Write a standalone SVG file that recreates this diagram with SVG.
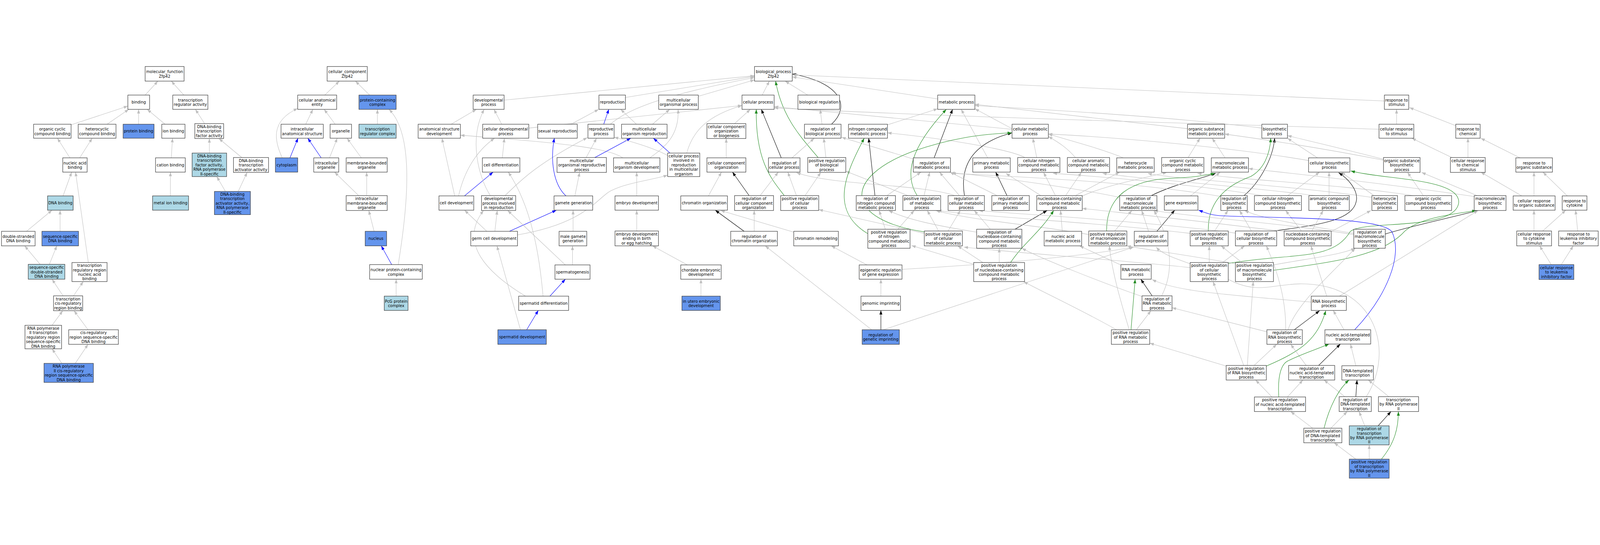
<svg xmlns="http://www.w3.org/2000/svg" width="5380" height="1395" viewBox="0 0 5380 1395" style="width:100vw;height:100vh;display:block">
<style>
.node rect{fill:#fff;stroke:#3c3c3c;stroke-width:1.6}
.node.lb rect{fill:#add8e6}
.node.db rect{fill:#6495ed}
text{font-family:"DejaVu Sans","Liberation Sans",sans-serif;font-size:13px;text-anchor:middle;dominant-baseline:central;fill:#000}
#edges path{fill:none;stroke:#c0c0c0;stroke-width:1.4;marker-end:url(#ag)}
#edges path.b{stroke:#0000ff;marker-end:url(#ab)}
#edges path.k{stroke:#000;marker-end:url(#ak)}
#edges path.g{stroke:#228b22;marker-end:url(#agr)}
</style>
<defs>
<marker id="ag" markerUnits="userSpaceOnUse" markerWidth="14" markerHeight="10" refX="14" refY="5" orient="auto"><path d="M0,0L14,5L0,10z" fill="#c0c0c0"/></marker>
<marker id="ab" markerUnits="userSpaceOnUse" markerWidth="14" markerHeight="10" refX="14" refY="5" orient="auto"><path d="M0,0L14,5L0,10z" fill="#0000ff"/></marker>
<marker id="ak" markerUnits="userSpaceOnUse" markerWidth="14" markerHeight="10" refX="14" refY="5" orient="auto"><path d="M0,0L14,5L0,10z" fill="#000"/></marker>
<marker id="agr" markerUnits="userSpaceOnUse" markerWidth="14" markerHeight="10" refX="14" refY="5" orient="auto"><path d="M0,0L14,5L0,10z" fill="#228b22"/></marker>
</defs>
<rect width="5380" height="1395" fill="#fff"/>
<g id="edges">
<path d="M488,101L531,54"/>
<path d="M618,101L576,54"/>
<path d="M239,201L430,138"/>
<path d="M360,199L433,149"/>
<path d="M466,199L466,149"/>
<path d="M555,199L495,149"/>
<path d="M688,197L657,149"/>
<path d="M235,312L193,246"/>
<path d="M268,312L310,246"/>
<path d="M576,312L580,246"/>
<path d="M704,296L704,247"/>
<path d="M813,311L736,247"/>
<path d="M212,440L241,360"/>
<path d="M573,440L573,360"/>
<path d="M758,425L729,375"/>
<path d="M801,425L831,361"/>
<path d="M89,559L175,488"/>
<path d="M202,559L202,488"/>
<path d="M297,664L254,360"/>
<path d="M135,670L83,608"/>
<path d="M166,670L191,608"/>
<path d="M212,776L175,720"/>
<path d="M247,776L280,728"/>
<path d="M175,875L211,826"/>
<path d="M296,890L249,826"/>
<path d="M208,1003L175,954"/>
<path d="M253,1003L296,939"/>
<path d="M1092,101L1141,54"/>
<path d="M1243,101L1195,54"/>
<path d="M1028,199L1052,149"/>
<path d="M1127,199L1090,149"/>
<path d="M1269,199L1269,149"/>
<path d="M949,312C925,260 905,190 1001,146"/>
<path class="b" d="M975,312L1002,246"/>
<path class="b" d="M1080,312L1035,246"/>
<path d="M1108,312L1134,246"/>
<path d="M1215,312L1167,246"/>
<path d="M1206,439L1125,360"/>
<path d="M1233,439L1233,360"/>
<path d="M1258,559L1240,489"/>
<path class="b" d="M1317,671L1282,608"/>
<path d="M1339,671C1375,450 1390,230 1308,149"/>
<path d="M1332,777L1332,720"/>
<path d="M1695,118L2537,36"/>
<path d="M1517,199L1602,149"/>
<path d="M1687,199L1661,149"/>
<path d="M1778,212L2495,136"/>
<path d="M2094,312C2050,280 1900,262 1548,236"/>
<path d="M1689,312L1696,246"/>
<path d="M1529,440L1486,246"/>
<path d="M1542,440C1560,360 1600,290 1663,246"/>
<path class="b" d="M1562,440L1658,360"/>
<path d="M1649,439C1610,380 1575,250 1628,149"/>
<path d="M1698,439C1740,400 1790,340 1975,244"/>
<path d="M1637,559L1562,488"/>
<path d="M1664,559L1672,489"/>
<path class="b" d="M1713,559L1871,488"/>
<path d="M1740,571C1980,530 2010,440 2060,420C2110,395 2200,385 2245,370"/>
<path d="M1901,672L1707,489"/>
<path d="M1767,777C1640,700 1540,600 1626,489"/>
<path d="M1750,890L1671,608"/>
<path class="b" d="M1771,890L1810,825"/>
<path class="b" d="M1849,777L1901,720"/>
<path d="M1826,777C1815,650 1790,480 1709,360"/>
<path d="M2103,109L2537,38"/>
<path d="M2348,105L2537,50"/>
<path d="M2563,101L2587,54"/>
<path d="M2052,199C2100,160 2180,110 2537,42"/>
<path d="M1920,199L2013,149"/>
<path class="b" d="M2030,199L2047,149"/>
<path d="M2140,199L2087,149"/>
<path d="M2194,199L2252,149"/>
<path d="M2185,312C2230,280 2285,240 2280,149"/>
<path d="M2309,296C2330,220 2380,170 2495,136"/>
<path d="M2470,197L2523,149"/>
<path class="k" d="M2627,312L2560,149"/>
<path class="g" d="M2638,440C2600,390 2540,330 2543,149"/>
<path class="g" d="M2751,311C2700,250 2630,180 2608,54"/>
<path d="M1971,311L2006,246"/>
<path class="b" d="M2000,311L2121,246"/>
<path class="b" d="M2253,296L2197,246"/>
<path d="M2245,304C2200,280 2120,255 2065,243"/>
<path class="b" d="M1903,440C1860,400 1850,320 1864,246"/>
<path d="M1933,440L1949,361"/>
<path d="M2141,440L2141,360"/>
<path d="M2141,558L2141,488"/>
<path d="M1927,559L1927,488"/>
<path d="M1925,672L1925,608"/>
<path d="M2311,672L2194,608"/>
<path d="M2357,777L2357,720"/>
<path d="M2442,312L2442,247"/>
<path d="M2382,440L2426,360"/>
<path class="k" d="M2519,439L2463,360"/>
<path d="M2556,439L2617,360"/>
<path d="M2678,439L2649,360"/>
<path class="k" d="M2502,559L2405,488"/>
<path d="M2536,559L2536,489"/>
<path d="M2669,562L2423,489"/>
<path d="M2931,890L2573,608"/>
<path class="k" d="M2962,890L2962,825"/>
<path d="M2964,892L3812,612"/>
<path d="M2962,777L2962,720"/>
<path d="M3033,687Q3580,655 3810,612"/>
<path d="M2915,672L2795,608"/>
<path d="M2716,101L2640,54"/>
<path class="k" d="M2796,199C2860,140 2830,60 2664,30"/>
<path d="M4655,121L2664,33"/>
<path d="M3153,114L2664,40"/>
<path d="M2764,199L2758,149"/>
<path d="M2663,312L2738,246"/>
<path d="M2777,311L2770,246"/>
<path d="M2707,439L2760,361"/>
<path d="M2984,201L3153,147"/>
<path d="M3403,214L3278,147"/>
<path d="M3403,216L2603,140"/>
<path d="M4637,216C4200,200 3300,180 2603,144"/>
<path d="M3993,214L3278,132"/>
<path d="M4243,212C3900,170 3500,150 3278,136"/>
<path class="k" d="M3141,312L3203,149"/>
<path d="M3071,316L2830,243"/>
<path d="M3321,312L3232,149"/>
<path d="M3486,311L3473,246"/>
<path d="M3446,311C3400,285 3200,250 2984,228"/>
<path d="M3616,311C3590,280 3560,260 3525,240"/>
<path d="M3777,312C3700,280 3600,255 3525,232"/>
<path d="M3995,311L4035,246"/>
<path d="M4119,312L4076,246"/>
<path class="k" d="M2942,439L2921,246"/>
<path d="M2982,439L3097,360"/>
<path class="g" d="M3084,439C3040,370 3060,280 3182,149"/>
<path d="M3107,439L3126,360"/>
<path d="M3053,439L2844,357"/>
<path class="k" d="M3243,439C3225,330 3280,260 3403,228"/>
<path d="M3226,439L3159,360"/>
<path d="M3211,439C3100,400 2800,405 2678,362"/>
<path class="k" d="M3386,439L3348,360"/>
<path d="M3353,439L3194,360"/>
<path d="M3549,439L3509,361"/>
<path d="M3583,439L3636,361"/>
<path d="M3616,439L3765,360"/>
<path d="M3630,445C3700,410 3800,390 3924,361"/>
<path d="M3500,439L3382,364"/>
<path class="k" d="M3871,439C3950,400 4030,385 4088,364"/>
<path d="M3765,445C3600,410 3300,370 3196,362"/>
<path d="M4003,440L4103,360"/>
<path class="k" d="M4183,439C4230,400 4280,320 4286,246"/>
<path d="M4106,442C3800,390 3400,375 3200,364"/>
<path d="M4246,439C4000,400 3700,375 3540,364"/>
<path d="M4330,439L4437,360"/>
<path d="M4469,439L4469,360"/>
<path d="M4426,439C4100,400 3800,380 3707,364"/>
<path d="M4620,439L4510,360"/>
<path d="M4613,445C4300,400 3950,385 3859,364"/>
<path d="M4786,439L4733,361"/>
<path d="M4753,439C4500,400 4150,385 4026,364"/>
<path d="M4967,439L4780,361"/>
<path d="M4957,442C4600,390 4300,360 4198,348"/>
<path d="M4430,312L4329,246"/>
<path d="M4400,321C4100,270 3700,240 3525,232"/>
<path d="M4652,317C4550,290 4400,255 4329,237"/>
<path d="M4652,320C4450,280 4250,250 4118,232"/>
<path d="M4696,199L4696,149"/>
<path d="M4895,204L4739,143"/>
<path d="M4882,311L4747,246"/>
<path d="M4936,311L4936,246"/>
<path d="M5111,312L4979,246"/>
<path d="M5117,440L4979,360"/>
<path d="M5158,440L5158,360"/>
<path d="M5270,440L5188,360"/>
<path d="M5158,558L5158,488"/>
<path d="M5187,558L5265,488"/>
<path d="M5305,558L5298,488"/>
<path d="M5216,671L5177,608"/>
<path d="M5250,671L5290,608"/>
<path class="g" d="M2918,567C2790,490 2840,370 2906,246"/>
<path d="M2977,552L2956,489"/>
<path d="M3019,552L3074,489"/>
<path class="g" d="M3108,561C2840,520 2830,380 3070,290C3200,245 3300,232 3402,228"/>
<path d="M3188,558L3229,489"/>
<path d="M3156,558L3118,489"/>
<path d="M3108,566L2753,486"/>
<path class="k" d="M3413,552L3521,489"/>
<path d="M3330,552L3276,489"/>
<path d="M3284,562C3150,540 3050,520 2988,489"/>
<path d="M3572,559L3566,489"/>
<path class="g" d="M3721,558C3720,440 3800,385 3950,380C4010,378 4050,372 4085,364"/>
<path d="M3748,558L3806,489"/>
<path d="M3661,570C3500,540 3250,520 3147,489"/>
<path class="k" d="M3890,559L3950,488"/>
<path d="M3862,559L3839,489"/>
<path class="g" d="M4063,558C4060,440 4150,395 4205,375C4250,350 4270,300 4273,246"/>
<path d="M4084,558L4129,489"/>
<path d="M4002,566C3700,530 3300,510 3152,489"/>
<path class="k" d="M4286,558C4400,540 4545,530 4560,460C4570,420 4530,380 4501,362"/>
<path d="M4208,558L4168,489"/>
<path d="M4154,565C3800,520 3400,500 3291,489"/>
<path d="M4376,558L4323,489"/>
<path d="M4411,558L4449,489"/>
<path d="M4476,560L4610,489"/>
<path d="M4318,560C4000,520 3800,500 3639,482"/>
<path class="k" d="M4658,568C4750,540 4850,520 4970,489"/>
<path d="M4552,566C4400,540 4250,520 4185,489"/>
<path d="M4552,570C4300,530 4000,510 3880,489"/>
<path class="g" d="M3398,664C3440,600 3500,560 3543,489"/>
<path d="M3360,664L3360,616"/>
<path d="M3274,670L3065,607"/>
<path d="M3305,664L3220,608"/>
<path d="M3768,672L3630,608"/>
<path d="M4066,664L4066,608"/>
<path d="M4111,664L4185,608"/>
<path d="M4002,681C3700,650 3400,630 3241,612"/>
<path class="g" d="M4130,667C4350,630 4480,660 4540,560C4580,520 4900,560 4905,460C4905,380 4650,385 4542,356"/>
<path d="M4282,672C4400,650 4500,640 4557,616"/>
<path class="g" d="M4282,690C4500,660 4650,640 4724,558C4780,510 4900,500 4964,489"/>
<path d="M4176,664L4106,608"/>
<path d="M4154,668C4000,640 3850,620 3789,608"/>
<path class="k" d="M3874,776L3836,720"/>
<path d="M3840,778C3700,730 3500,650 3436,616"/>
<path d="M3906,776C3945,700 3945,600 3880,489"/>
<path d="M4409,797C4100,770 3950,760 3874,721"/>
<path d="M4461,777L4408,608"/>
<path d="M4504,777L4970,489"/>
<path class="g" d="M3803,890L3817,720"/>
<path d="M3821,890L3870,826"/>
<path d="M3754,890C3650,830 3500,760 3442,728"/>
<path d="M3797,890C3770,800 3740,700 3730,608"/>
<path class="k" d="M4352,890L4437,826"/>
<path d="M4260,897L3941,816"/>
<path d="M4323,890C4325,800 4300,700 4258,608"/>
<path d="M4331,890C4360,800 4480,700 4557,616"/>
<path d="M4519,890L4483,825"/>
<path class="b" d="M4555,890C4660,780 4720,640 4680,560C4640,510 4300,515 4112,507C4070,505 4050,495 4030,488"/>
<path d="M4594,1115C4680,980 4640,790 4460,745C4300,710 4250,790 4120,715C4000,660 3920,650 3888,612"/>
<path class="g" d="M4258,1012C4380,960 4430,920 4458,826"/>
<path d="M4217,1010L4293,939"/>
<path d="M4123,1012L3866,935"/>
<path d="M4182,1010L4079,728"/>
<path d="M4194,1010L4214,728"/>
<path class="k" d="M4434,1010L4507,938"/>
<path d="M4392,1010L4340,939"/>
<path d="M4559,1011L4541,938"/>
<path d="M4277,1116L4222,1059"/>
<path d="M4329,1116L4381,1059"/>
<path class="g" d="M4300,1116C4295,1040 4310,1005 4330,995C4380,970 4430,955 4469,938"/>
<path class="k" d="M4559,1115L4563,1059"/>
<path d="M4522,1115L4452,1059"/>
<path d="M4670,1115L4601,1059"/>
<path d="M4414,1221L4340,1165"/>
<path d="M4475,1221L4530,1165"/>
<path class="g" d="M4452,1221C4470,1150 4500,1090 4536,1059"/>
<path d="M4589,1213L4570,1165"/>
<path class="k" d="M4634,1213L4677,1165"/>
<path d="M4559,1325L4486,1270"/>
<path d="M4604,1325L4604,1277"/>
<path class="g" d="M4645,1325C4690,1270 4702,1220 4702,1165"/>
</g>
<g id="n_mf" class="node"><rect x="488" y="5" width="131" height="49"/><text><tspan x="553.5" y="22">molecular_function</tspan><tspan x="553.5" y="37">Zfp42</tspan></text></g>
<g id="n_binding" class="node"><rect x="430" y="101" width="73" height="48"/><text x="466.5" y="125">binding</text></g>
<g id="n_tra" class="node"><rect x="581" y="101" width="118" height="48"/><text><tspan x="640" y="117.5">transcription</tspan><tspan x="640" y="132.5">regulator activity</tspan></text></g>
<g id="n_occb" class="node"><rect x="113" y="199" width="126" height="47"/><text><tspan x="176" y="215">organic cyclic</tspan><tspan x="176" y="230">compound binding</tspan></text></g>
<g id="n_hcb" class="node"><rect x="263" y="199" width="127" height="47"/><text><tspan x="326.5" y="215">heterocyclic</tspan><tspan x="326.5" y="230">compound binding</tspan></text></g>
<g id="n_pb" class="node db"><rect x="414" y="199" width="104" height="47"/><text x="466" y="222.5">protein binding</text></g>
<g id="n_ionb" class="node"><rect x="544" y="199" width="78" height="47"/><text x="583" y="222.5">ion binding</text></g>
<g id="n_dbtfa" class="node"><rect x="655" y="197" width="97" height="50"/><text><tspan x="703.5" y="207">DNA-binding</tspan><tspan x="703.5" y="222">transcription</tspan><tspan x="703.5" y="237">factor activity</tspan></text></g>
<g id="n_nab" class="node"><rect x="211" y="312" width="82" height="48"/><text><tspan x="252" y="328.5">nucleic acid</tspan><tspan x="252" y="343.5">binding</tspan></text></g>
<g id="n_catb" class="node"><rect x="523" y="312" width="100" height="48"/><text x="573" y="336">cation binding</text></g>
<g id="n_dbtfa2" class="node lb"><rect x="646" y="296" width="116" height="79"/><text><tspan x="704" y="305.5">DNA-binding</tspan><tspan x="704" y="320.5">transcription</tspan><tspan x="704" y="335.5">factor activity,</tspan><tspan x="704" y="350.5">RNA polymerase</tspan><tspan x="704" y="365.5">II-specific</tspan></text></g>
<g id="n_dbtaa" class="node"><rect x="785" y="311" width="118" height="50"/><text><tspan x="844" y="321">DNA-binding</tspan><tspan x="844" y="336">transcription</tspan><tspan x="844" y="351">activator activity</tspan></text></g>
<g id="n_dnab" class="node lb"><rect x="160" y="440" width="86" height="48"/><text x="203" y="464">DNA binding</text></g>
<g id="n_mib" class="node lb"><rect x="513" y="440" width="121" height="48"/><text x="573.5" y="464">metal ion binding</text></g>
<g id="n_dbtaa2" class="node db"><rect x="721" y="425" width="121" height="78"/><text><tspan x="781.5" y="434">DNA-binding</tspan><tspan x="781.5" y="449">transcription</tspan><tspan x="781.5" y="464">activator activity,</tspan><tspan x="781.5" y="479">RNA polymerase</tspan><tspan x="781.5" y="494">II-specific</tspan></text></g>
<g id="n_dsdb" class="node"><rect x="5" y="559" width="113" height="49"/><text><tspan x="61.5" y="576">double-stranded</tspan><tspan x="61.5" y="591">DNA binding</tspan></text></g>
<g id="n_ssdb" class="node db"><rect x="141" y="559" width="123" height="49"/><text><tspan x="202.5" y="576">sequence-specific</tspan><tspan x="202.5" y="591">DNA binding</tspan></text></g>
<g id="n_ssds" class="node lb"><rect x="95" y="670" width="123" height="50"/><text><tspan x="156.5" y="680">sequence-specific</tspan><tspan x="156.5" y="695">double-stranded</tspan><tspan x="156.5" y="710">DNA binding</tspan></text></g>
<g id="n_trrnab" class="node"><rect x="242" y="664" width="118" height="64"/><text><tspan x="301" y="673.5">transcription</tspan><tspan x="301" y="688.5">regulatory region</tspan><tspan x="301" y="703.5">nucleic acid</tspan><tspan x="301" y="718.5">binding</tspan></text></g>
<g id="n_tcrrb" class="node"><rect x="180" y="776" width="98" height="50"/><text><tspan x="229" y="786">transcription</tspan><tspan x="229" y="801">cis-regulatory</tspan><tspan x="229" y="816">region binding</tspan></text></g>
<g id="n_rnap2trr" class="node"><rect x="84" y="875" width="123" height="79"/><text><tspan x="145.5" y="884.5">RNA polymerase</tspan><tspan x="145.5" y="899.5">II transcription</tspan><tspan x="145.5" y="914.5">regulatory region</tspan><tspan x="145.5" y="929.5">sequence-specific</tspan><tspan x="145.5" y="944.5">DNA binding</tspan></text></g>
<g id="n_crrss" class="node"><rect x="231" y="890" width="167" height="49"/><text><tspan x="314.5" y="899.5">cis-regulatory</tspan><tspan x="314.5" y="914.5">region sequence-specific</tspan><tspan x="314.5" y="929.5">DNA binding</tspan></text></g>
<g id="n_rnap2cr" class="node db"><rect x="148" y="1003" width="166" height="64"/><text><tspan x="231" y="1012.5">RNA polymerase</tspan><tspan x="231" y="1027.5">II cis-regulatory</tspan><tspan x="231" y="1042.5">region sequence-specific</tspan><tspan x="231" y="1057.5">DNA binding</tspan></text></g>
<g id="n_cc" class="node"><rect x="1100" y="5" width="135" height="49"/><text><tspan x="1167.5" y="22">cellular_component</tspan><tspan x="1167.5" y="37">Zfp42</tspan></text></g>
<g id="n_cae" class="node"><rect x="1001" y="101" width="131" height="48"/><text><tspan x="1066.5" y="117.5">cellular anatomical</tspan><tspan x="1066.5" y="132.5">entity</tspan></text></g>
<g id="n_pcc" class="node db"><rect x="1207" y="101" width="125" height="48"/><text><tspan x="1269.5" y="117.5">protein-containing</tspan><tspan x="1269.5" y="132.5">complex</tspan></text></g>
<g id="n_ias" class="node"><rect x="945" y="199" width="142" height="47"/><text><tspan x="1016" y="215">intracellular</tspan><tspan x="1016" y="230">anatomical structure</tspan></text></g>
<g id="n_org" class="node"><rect x="1110" y="199" width="72" height="47"/><text x="1146" y="222.5">organelle</text></g>
<g id="n_trc" class="node lb"><rect x="1207" y="199" width="125" height="47"/><text><tspan x="1269.5" y="215">transcription</tspan><tspan x="1269.5" y="230">regulator complex</tspan></text></g>
<g id="n_cyto" class="node db"><rect x="926" y="312" width="75" height="48"/><text x="963.5" y="336">cytoplasm</text></g>
<g id="n_io" class="node"><rect x="1055" y="312" width="84" height="48"/><text><tspan x="1097" y="328.5">intracellular</tspan><tspan x="1097" y="343.5">organelle</tspan></text></g>
<g id="n_mbo" class="node"><rect x="1164" y="312" width="138" height="48"/><text><tspan x="1233" y="328.5">membrane-bounded</tspan><tspan x="1233" y="343.5">organelle</tspan></text></g>
<g id="n_imbo" class="node"><rect x="1164" y="439" width="138" height="50"/><text><tspan x="1233" y="449">intracellular</tspan><tspan x="1233" y="464">membrane-bounded</tspan><tspan x="1233" y="479">organelle</tspan></text></g>
<g id="n_nuc" class="node db"><rect x="1228" y="559" width="72" height="49"/><text x="1264" y="583.5">nucleus</text></g>
<g id="n_npcc" class="node"><rect x="1243" y="671" width="177" height="49"/><text><tspan x="1331.5" y="688">nuclear protein-containing</tspan><tspan x="1331.5" y="703">complex</tspan></text></g>
<g id="n_pcg" class="node lb"><rect x="1292" y="777" width="80" height="48"/><text><tspan x="1332" y="793.5">PcG protein</tspan><tspan x="1332" y="808.5">complex</tspan></text></g>
<g id="n_dp" class="node"><rect x="1591" y="101" width="104" height="48"/><text><tspan x="1643" y="117.5">developmental</tspan><tspan x="1643" y="132.5">process</tspan></text></g>
<g id="n_asd" class="node"><rect x="1406" y="199" width="142" height="47"/><text><tspan x="1477" y="215">anatomical structure</tspan><tspan x="1477" y="230">development</tspan></text></g>
<g id="n_cdp" class="node"><rect x="1623" y="199" width="155" height="47"/><text><tspan x="1700.5" y="215">cellular developmental</tspan><tspan x="1700.5" y="230">process</tspan></text></g>
<g id="n_cdiff" class="node"><rect x="1622" y="312" width="126" height="48"/><text x="1685" y="336">cell differentiation</text></g>
<g id="n_cdev" class="node"><rect x="1476" y="440" width="117" height="48"/><text x="1534.5" y="464">cell development</text></g>
<g id="n_dpir" class="node"><rect x="1619" y="439" width="115" height="50"/><text><tspan x="1676.5" y="449">developmental</tspan><tspan x="1676.5" y="464">process involved</tspan><tspan x="1676.5" y="479">in reproduction</tspan></text></g>
<g id="n_gcd" class="node"><rect x="1583" y="559" width="157" height="49"/><text x="1661.5" y="583.5">germ cell development</text></g>
<g id="n_sdiff" class="node"><rect x="1744" y="777" width="168" height="48"/><text x="1828" y="801">spermatid differentiation</text></g>
<g id="n_sdev" class="node db"><rect x="1674" y="890" width="163" height="49"/><text x="1755.5" y="914.5">spermatid development</text></g>
<g id="n_bp" class="node"><rect x="2537" y="5" width="127" height="49"/><text><tspan x="2600.5" y="22">biological_process</tspan><tspan x="2600.5" y="37">Zfp42</tspan></text></g>
<g id="n_repro" class="node"><rect x="2014" y="101" width="89" height="48"/><text x="2058.5" y="125">reproduction</text></g>
<g id="n_mop" class="node"><rect x="2215" y="101" width="133" height="48"/><text><tspan x="2281.5" y="117.5">multicellular</tspan><tspan x="2281.5" y="132.5">organismal process</tspan></text></g>
<g id="n_cp" class="node"><rect x="2495" y="101" width="108" height="48"/><text x="2549" y="125">cellular process</text></g>
<g id="n_sexrep" class="node"><rect x="1808" y="199" width="133" height="47"/><text x="1874.5" y="222.5">sexual reproduction</text></g>
<g id="n_rp" class="node"><rect x="1977" y="199" width="88" height="47"/><text><tspan x="2021" y="215">reproductive</tspan><tspan x="2021" y="230">process</tspan></text></g>
<g id="n_mor" class="node"><rect x="2090" y="199" width="153" height="47"/><text><tspan x="2166.5" y="215">multicellular</tspan><tspan x="2166.5" y="230">organism reproduction</tspan></text></g>
<g id="n_ccob" class="node"><rect x="2377" y="197" width="131" height="50"/><text><tspan x="2442.5" y="207">cellular component</tspan><tspan x="2442.5" y="222">organization</tspan><tspan x="2442.5" y="237">or biogenesis</tspan></text></g>
<g id="n_mrp" class="node"><rect x="1873" y="311" width="166" height="50"/><text><tspan x="1956" y="321">multicellular</tspan><tspan x="1956" y="336">organismal reproductive</tspan><tspan x="1956" y="351">process</tspan></text></g>
<g id="n_mod" class="node"><rect x="2063" y="312" width="156" height="48"/><text><tspan x="2141" y="328.5">multicellular</tspan><tspan x="2141" y="343.5">organism development</tspan></text></g>
<g id="n_cprmo" class="node"><rect x="2245" y="296" width="108" height="79"/><text><tspan x="2299" y="305.5">cellular process</tspan><tspan x="2299" y="320.5">involved in</tspan><tspan x="2299" y="335.5">reproduction</tspan><tspan x="2299" y="350.5">in multicellular</tspan><tspan x="2299" y="365.5">organism</tspan></text></g>
<g id="n_cco" class="node"><rect x="2377" y="312" width="131" height="48"/><text><tspan x="2442.5" y="328.5">cellular component</tspan><tspan x="2442.5" y="343.5">organization</tspan></text></g>
<g id="n_roc" class="node"><rect x="2584" y="312" width="106" height="48"/><text><tspan x="2637" y="328.5">regulation of</tspan><tspan x="2637" y="343.5">cellular process</tspan></text></g>
<g id="n_gg" class="node"><rect x="1863" y="440" width="130" height="48"/><text x="1928" y="464">gamete generation</text></g>
<g id="n_ed" class="node"><rect x="2068" y="440" width="146" height="48"/><text x="2141" y="464">embryo development</text></g>
<g id="n_chro" class="node"><rect x="2289" y="440" width="157" height="48"/><text x="2367.5" y="464">chromatin organization</text></g>
<g id="n_rcco" class="node"><rect x="2470" y="439" width="131" height="50"/><text><tspan x="2535.5" y="449">regulation of</tspan><tspan x="2535.5" y="464">cellular component</tspan><tspan x="2535.5" y="479">organization</tspan></text></g>
<g id="n_prcp" class="node"><rect x="2625" y="439" width="128" height="50"/><text><tspan x="2689" y="449">positive regulation</tspan><tspan x="2689" y="464">of cellular</tspan><tspan x="2689" y="479">process</tspan></text></g>
<g id="n_mgg" class="node"><rect x="1880" y="559" width="93" height="49"/><text><tspan x="1926.5" y="576">male gamete</tspan><tspan x="1926.5" y="591">generation</tspan></text></g>
<g id="n_edeb" class="node"><rect x="2068" y="558" width="146" height="50"/><text><tspan x="2141" y="568">embryo development</tspan><tspan x="2141" y="583">ending in birth</tspan><tspan x="2141" y="598">or egg hatching</tspan></text></g>
<g id="n_rchro" class="node"><rect x="2457" y="559" width="157" height="49"/><text><tspan x="2535.5" y="576">regulation of</tspan><tspan x="2535.5" y="591">chromatin organization</tspan></text></g>
<g id="n_chrem" class="node"><rect x="2669" y="559" width="150" height="49"/><text x="2744" y="583.5">chromatin remodeling</text></g>
<g id="n_sperm" class="node"><rect x="1866" y="672" width="118" height="48"/><text x="1925" y="696">spermatogenesis</text></g>
<g id="n_ced" class="node"><rect x="2289" y="672" width="136" height="48"/><text><tspan x="2357" y="688.5">chordate embryonic</tspan><tspan x="2357" y="703.5">development</tspan></text></g>
<g id="n_iued" class="node db"><rect x="2293" y="777" width="129" height="48"/><text><tspan x="2357.5" y="793.5">in utero embryonic</tspan><tspan x="2357.5" y="808.5">development</tspan></text></g>
<g id="n_br" class="node"><rect x="2683" y="101" width="140" height="48"/><text x="2753" y="125">biological regulation</text></g>
<g id="n_mp" class="node"><rect x="3153" y="101" width="125" height="48"/><text x="3215.5" y="125">metabolic process</text></g>
<g id="n_rbp" class="node"><rect x="2705" y="199" width="123" height="47"/><text><tspan x="2766.5" y="215">regulation of</tspan><tspan x="2766.5" y="230">biological process</tspan></text></g>
<g id="n_ncmp" class="node"><rect x="2853" y="199" width="131" height="47"/><text><tspan x="2918.5" y="215">nitrogen compound</tspan><tspan x="2918.5" y="230">metabolic process</tspan></text></g>
<g id="n_cmp" class="node"><rect x="3403" y="199" width="122" height="47"/><text><tspan x="3464" y="215">cellular metabolic</tspan><tspan x="3464" y="230">process</tspan></text></g>
<g id="n_prbp" class="node"><rect x="2716" y="311" width="128" height="50"/><text><tspan x="2780" y="321">positive regulation</tspan><tspan x="2780" y="336">of biological</tspan><tspan x="2780" y="351">process</tspan></text></g>
<g id="n_rmp" class="node"><rect x="3071" y="312" width="125" height="48"/><text><tspan x="3133.5" y="328.5">regulation of</tspan><tspan x="3133.5" y="343.5">metabolic process</tspan></text></g>
<g id="n_pmp" class="node"><rect x="3271" y="312" width="126" height="48"/><text><tspan x="3334" y="328.5">primary metabolic</tspan><tspan x="3334" y="343.5">process</tspan></text></g>
<g id="n_cncmp" class="node"><rect x="3422" y="311" width="142" height="50"/><text><tspan x="3493" y="321">cellular nitrogen</tspan><tspan x="3493" y="336">compound metabolic</tspan><tspan x="3493" y="351">process</tspan></text></g>
<g id="n_rncmp" class="node"><rect x="2879" y="439" width="132" height="50"/><text><tspan x="2945" y="449">regulation of</tspan><tspan x="2945" y="464">nitrogen compound</tspan><tspan x="2945" y="479">metabolic process</tspan></text></g>
<g id="n_prmp" class="node"><rect x="3036" y="439" width="127" height="50"/><text><tspan x="3099.5" y="449">positive regulation</tspan><tspan x="3099.5" y="464">of metabolic</tspan><tspan x="3099.5" y="479">process</tspan></text></g>
<g id="n_rcmp" class="node"><rect x="3188" y="439" width="122" height="50"/><text><tspan x="3249" y="449">regulation of</tspan><tspan x="3249" y="464">cellular metabolic</tspan><tspan x="3249" y="479">process</tspan></text></g>
<g id="n_rpmp" class="node"><rect x="3335" y="439" width="126" height="50"/><text><tspan x="3398" y="449">regulation of</tspan><tspan x="3398" y="464">primary metabolic</tspan><tspan x="3398" y="479">process</tspan></text></g>
<g id="n_nccmp" class="node"><rect x="3486" y="439" width="153" height="50"/><text><tspan x="3562.5" y="449">nucleobase-containing</tspan><tspan x="3562.5" y="464">compound metabolic</tspan><tspan x="3562.5" y="479">process</tspan></text></g>
<g id="n_prncmp" class="node"><rect x="2918" y="552" width="142" height="64"/><text><tspan x="2989" y="561.5">positive regulation</tspan><tspan x="2989" y="576.5">of nitrogen</tspan><tspan x="2989" y="591.5">compound metabolic</tspan><tspan x="2989" y="606.5">process</tspan></text></g>
<g id="n_prcmp" class="node"><rect x="3108" y="558" width="128" height="50"/><text><tspan x="3172" y="568">positive regulation</tspan><tspan x="3172" y="583">of cellular</tspan><tspan x="3172" y="598">metabolic process</tspan></text></g>
<g id="n_rnccmp" class="node"><rect x="3284" y="552" width="152" height="64"/><text><tspan x="3360" y="561.5">regulation of</tspan><tspan x="3360" y="576.5">nucleobase-containing</tspan><tspan x="3360" y="591.5">compound metabolic</tspan><tspan x="3360" y="606.5">process</tspan></text></g>
<g id="n_namp" class="node"><rect x="3511" y="559" width="126" height="49"/><text><tspan x="3574" y="576">nucleic acid</tspan><tspan x="3574" y="591">metabolic process</tspan></text></g>
<g id="n_erge" class="node"><rect x="2889" y="672" width="144" height="48"/><text><tspan x="2961" y="688.5">epigenetic regulation</tspan><tspan x="2961" y="703.5">of gene expression</tspan></text></g>
<g id="n_prnccmp" class="node"><rect x="3274" y="664" width="171" height="64"/><text><tspan x="3359.5" y="673.5">positive regulation</tspan><tspan x="3359.5" y="688.5">of nucleobase-containing</tspan><tspan x="3359.5" y="703.5">compound metabolic</tspan><tspan x="3359.5" y="718.5">process</tspan></text></g>
<g id="n_gimp" class="node"><rect x="2895" y="777" width="133" height="48"/><text x="2961.5" y="801">genomic imprinting</text></g>
<g id="n_rgimp" class="node db"><rect x="2899" y="890" width="125" height="49"/><text><tspan x="2961.5" y="907">regulation of</tspan><tspan x="2961.5" y="922">genetic imprinting</tspan></text></g>
<g id="n_osmp" class="node"><rect x="3993" y="199" width="125" height="47"/><text><tspan x="4055.5" y="215">organic substance</tspan><tspan x="4055.5" y="230">metabolic process</tspan></text></g>
<g id="n_bsp" class="node"><rect x="4243" y="199" width="86" height="47"/><text><tspan x="4286" y="215">biosynthetic</tspan><tspan x="4286" y="230">process</tspan></text></g>
<g id="n_cacmp" class="node"><rect x="3589" y="311" width="142" height="50"/><text><tspan x="3660" y="321">cellular aromatic</tspan><tspan x="3660" y="336">compound metabolic</tspan><tspan x="3660" y="351">process</tspan></text></g>
<g id="n_hmp" class="node"><rect x="3755" y="312" width="126" height="48"/><text><tspan x="3818" y="328.5">heterocycle</tspan><tspan x="3818" y="343.5">metabolic process</tspan></text></g>
<g id="n_occmp" class="node"><rect x="3906" y="311" width="142" height="50"/><text><tspan x="3977" y="321">organic cyclic</tspan><tspan x="3977" y="336">compound metabolic</tspan><tspan x="3977" y="351">process</tspan></text></g>
<g id="n_mmp" class="node"><rect x="4073" y="312" width="125" height="48"/><text><tspan x="4135.5" y="328.5">macromolecule</tspan><tspan x="4135.5" y="343.5">metabolic process</tspan></text></g>
<g id="n_cbp" class="node"><rect x="4400" y="312" width="139" height="48"/><text><tspan x="4469.5" y="328.5">cellular biosynthetic</tspan><tspan x="4469.5" y="343.5">process</tspan></text></g>
<g id="n_rmmp" class="node"><rect x="3765" y="439" width="125" height="50"/><text><tspan x="3827.5" y="449">regulation of</tspan><tspan x="3827.5" y="464">macromolecule</tspan><tspan x="3827.5" y="479">metabolic process</tspan></text></g>
<g id="n_ge" class="node"><rect x="3915" y="440" width="113" height="48"/><text x="3971.5" y="464">gene expression</text></g>
<g id="n_rbsp" class="node"><rect x="4105" y="439" width="89" height="50"/><text><tspan x="4149.5" y="449">regulation of</tspan><tspan x="4149.5" y="464">biosynthetic</tspan><tspan x="4149.5" y="479">process</tspan></text></g>
<g id="n_cncbp" class="node"><rect x="4218" y="439" width="158" height="50"/><text><tspan x="4297" y="449">cellular nitrogen</tspan><tspan x="4297" y="464">compound biosynthetic</tspan><tspan x="4297" y="479">process</tspan></text></g>
<g id="n_acbp" class="node"><rect x="4401" y="439" width="136" height="50"/><text><tspan x="4469" y="449">aromatic compound</tspan><tspan x="4469" y="464">biosynthetic</tspan><tspan x="4469" y="479">process</tspan></text></g>
<g id="n_prmmp" class="node"><rect x="3661" y="558" width="128" height="50"/><text><tspan x="3725" y="568">positive regulation</tspan><tspan x="3725" y="583">of macromolecule</tspan><tspan x="3725" y="598">metabolic process</tspan></text></g>
<g id="n_rge" class="node"><rect x="3814" y="559" width="113" height="49"/><text><tspan x="3870.5" y="576">regulation of</tspan><tspan x="3870.5" y="591">gene expression</tspan></text></g>
<g id="n_prbsp" class="node"><rect x="4002" y="558" width="128" height="50"/><text><tspan x="4066" y="568">positive regulation</tspan><tspan x="4066" y="583">of biosynthetic</tspan><tspan x="4066" y="598">process</tspan></text></g>
<g id="n_rcbp" class="node"><rect x="4154" y="558" width="139" height="50"/><text><tspan x="4223.5" y="568">regulation of</tspan><tspan x="4223.5" y="583">cellular biosynthetic</tspan><tspan x="4223.5" y="598">process</tspan></text></g>
<g id="n_nccbp" class="node"><rect x="4318" y="558" width="158" height="50"/><text><tspan x="4397" y="568">nucleobase-containing</tspan><tspan x="4397" y="583">compound biosynthetic</tspan><tspan x="4397" y="598">process</tspan></text></g>
<g id="n_rnamp" class="node"><rect x="3769" y="671" width="102" height="49"/><text><tspan x="3820" y="688">RNA metabolic</tspan><tspan x="3820" y="703">process</tspan></text></g>
<g id="n_prcbp" class="node"><rect x="4002" y="664" width="128" height="64"/><text><tspan x="4066" y="673.5">positive regulation</tspan><tspan x="4066" y="688.5">of cellular</tspan><tspan x="4066" y="703.5">biosynthetic</tspan><tspan x="4066" y="718.5">process</tspan></text></g>
<g id="n_prmbp" class="node"><rect x="4154" y="664" width="128" height="64"/><text><tspan x="4218" y="673.5">positive regulation</tspan><tspan x="4218" y="688.5">of macromolecule</tspan><tspan x="4218" y="703.5">biosynthetic</tspan><tspan x="4218" y="718.5">process</tspan></text></g>
<g id="n_rrnamp" class="node"><rect x="3840" y="776" width="101" height="50"/><text><tspan x="3890.5" y="786">regulation of</tspan><tspan x="3890.5" y="801">RNA metabolic</tspan><tspan x="3890.5" y="816">process</tspan></text></g>
<g id="n_rnabp" class="node"><rect x="4409" y="777" width="118" height="48"/><text><tspan x="4468" y="793.5">RNA biosynthetic</tspan><tspan x="4468" y="808.5">process</tspan></text></g>
<g id="n_prrnamp" class="node"><rect x="3737" y="890" width="129" height="49"/><text><tspan x="3801.5" y="899.5">positive regulation</tspan><tspan x="3801.5" y="914.5">of RNA metabolic</tspan><tspan x="3801.5" y="929.5">process</tspan></text></g>
<g id="n_rrnabp" class="node"><rect x="4260" y="890" width="119" height="49"/><text><tspan x="4319.5" y="899.5">regulation of</tspan><tspan x="4319.5" y="914.5">RNA biosynthetic</tspan><tspan x="4319.5" y="929.5">process</tspan></text></g>
<g id="n_natt" class="node"><rect x="4455" y="890" width="154" height="48"/><text><tspan x="4532" y="906.5">nucleic acid-templated</tspan><tspan x="4532" y="921.5">transcription</tspan></text></g>
<g id="n_prrnabp" class="node"><rect x="4123" y="1010" width="135" height="49"/><text><tspan x="4190.5" y="1019.5">positive regulation</tspan><tspan x="4190.5" y="1034.5">of RNA biosynthetic</tspan><tspan x="4190.5" y="1049.5">process</tspan></text></g>
<g id="n_rnatt" class="node"><rect x="4333" y="1010" width="155" height="49"/><text><tspan x="4410.5" y="1019.5">regulation of</tspan><tspan x="4410.5" y="1034.5">nucleic acid-templated</tspan><tspan x="4410.5" y="1049.5">transcription</tspan></text></g>
<g id="n_dtt" class="node"><rect x="4512" y="1011" width="106" height="48"/><text><tspan x="4565" y="1027.5">DNA-templated</tspan><tspan x="4565" y="1042.5">transcription</tspan></text></g>
<g id="n_prnatt" class="node"><rect x="4218" y="1116" width="172" height="49"/><text><tspan x="4304" y="1125.5">positive regulation</tspan><tspan x="4304" y="1140.5">of nucleic acid-templated</tspan><tspan x="4304" y="1155.5">transcription</tspan></text></g>
<g id="n_rdtt" class="node"><rect x="4503" y="1115" width="108" height="50"/><text><tspan x="4557" y="1125">regulation of</tspan><tspan x="4557" y="1140">DNA-templated</tspan><tspan x="4557" y="1155">transcription</tspan></text></g>
<g id="n_trnap2" class="node"><rect x="4635" y="1115" width="135" height="50"/><text><tspan x="4702.5" y="1125">transcription</tspan><tspan x="4702.5" y="1140">by RNA polymerase</tspan><tspan x="4702.5" y="1155">II</tspan></text></g>
<g id="n_prdtt" class="node"><rect x="4384" y="1221" width="128" height="49"/><text><tspan x="4448" y="1230.5">positive regulation</tspan><tspan x="4448" y="1245.5">of DNA-templated</tspan><tspan x="4448" y="1260.5">transcription</tspan></text></g>
<g id="n_rtrnap2" class="node lb"><rect x="4537" y="1213" width="134" height="64"/><text><tspan x="4604" y="1222.5">regulation of</tspan><tspan x="4604" y="1237.5">transcription</tspan><tspan x="4604" y="1252.5">by RNA polymerase</tspan><tspan x="4604" y="1267.5">II</tspan></text></g>
<g id="n_prtrnap2" class="node db"><rect x="4537" y="1325" width="134" height="64"/><text><tspan x="4604" y="1334.5">positive regulation</tspan><tspan x="4604" y="1349.5">of transcription</tspan><tspan x="4604" y="1364.5">by RNA polymerase</tspan><tspan x="4604" y="1379.5">II</tspan></text></g>
<g id="n_rs" class="node"><rect x="4655" y="101" width="82" height="48"/><text><tspan x="4696" y="117.5">response to</tspan><tspan x="4696" y="132.5">stimulus</tspan></text></g>
<g id="n_crs" class="node"><rect x="4637" y="199" width="117" height="47"/><text><tspan x="4695.5" y="215">cellular response</tspan><tspan x="4695.5" y="230">to stimulus</tspan></text></g>
<g id="n_rchem" class="node"><rect x="4895" y="199" width="82" height="47"/><text><tspan x="4936" y="215">response to</tspan><tspan x="4936" y="230">chemical</tspan></text></g>
<g id="n_osbp" class="node"><rect x="4652" y="311" width="123" height="50"/><text><tspan x="4713.5" y="321">organic substance</tspan><tspan x="4713.5" y="336">biosynthetic</tspan><tspan x="4713.5" y="351">process</tspan></text></g>
<g id="n_crcs" class="node"><rect x="4877" y="311" width="117" height="50"/><text><tspan x="4935.5" y="321">cellular response</tspan><tspan x="4935.5" y="336">to chemical</tspan><tspan x="4935.5" y="351">stimulus</tspan></text></g>
<g id="n_ros" class="node"><rect x="5097" y="312" width="123" height="48"/><text><tspan x="5158.5" y="328.5">response to</tspan><tspan x="5158.5" y="343.5">organic substance</tspan></text></g>
<g id="n_hbp" class="node"><rect x="4613" y="439" width="86" height="50"/><text><tspan x="4656" y="449">heterocycle</tspan><tspan x="4656" y="464">biosynthetic</tspan><tspan x="4656" y="479">process</tspan></text></g>
<g id="n_occbp" class="node"><rect x="4724" y="439" width="157" height="50"/><text><tspan x="4802.5" y="449">organic cyclic</tspan><tspan x="4802.5" y="464">compound biosynthetic</tspan><tspan x="4802.5" y="479">process</tspan></text></g>
<g id="n_mbp" class="node"><rect x="4957" y="439" width="107" height="50"/><text><tspan x="5010.5" y="449">macromolecule</tspan><tspan x="5010.5" y="464">biosynthetic</tspan><tspan x="5010.5" y="479">process</tspan></text></g>
<g id="n_cros" class="node"><rect x="5088" y="440" width="141" height="48"/><text><tspan x="5158.5" y="456.5">cellular response</tspan><tspan x="5158.5" y="471.5">to organic substance</tspan></text></g>
<g id="n_rcyt" class="node"><rect x="5253" y="440" width="83" height="48"/><text><tspan x="5294.5" y="456.5">response to</tspan><tspan x="5294.5" y="471.5">cytokine</tspan></text></g>
<g id="n_rmbp" class="node"><rect x="4552" y="552" width="106" height="64"/><text><tspan x="4605" y="561.5">regulation of</tspan><tspan x="4605" y="576.5">macromolecule</tspan><tspan x="4605" y="591.5">biosynthetic</tspan><tspan x="4605" y="606.5">process</tspan></text></g>
<g id="n_crcyt" class="node"><rect x="5100" y="558" width="117" height="50"/><text><tspan x="5158.5" y="568">cellular response</tspan><tspan x="5158.5" y="583">to cytokine</tspan><tspan x="5158.5" y="598">stimulus</tspan></text></g>
<g id="n_rlif" class="node"><rect x="5241" y="558" width="133" height="50"/><text><tspan x="5307.5" y="568">response to</tspan><tspan x="5307.5" y="583">leukemia inhibitory</tspan><tspan x="5307.5" y="598">factor</tspan></text></g>
<g id="n_crlif" class="node db"><rect x="5175" y="671" width="117" height="50"/><text><tspan x="5233.5" y="681">cellular response</tspan><tspan x="5233.5" y="696">to leukemia</tspan><tspan x="5233.5" y="711">inhibitory factor</tspan></text></g>
</svg>
